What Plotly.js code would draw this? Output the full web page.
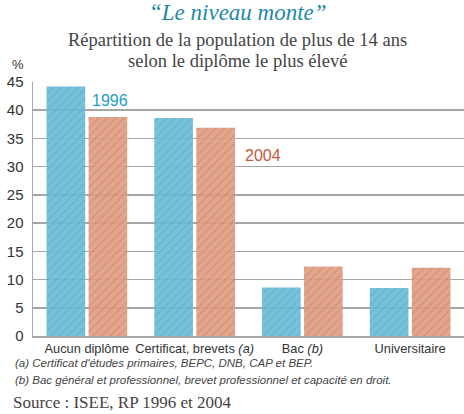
<!DOCTYPE html>
<html><head><meta charset="utf-8">
<script src="https://cdn.plot.ly/plotly-3.0.1.min.js"></script>
<style>body{margin:0;padding:0;background:#fff}#chart{width:464px;height:414px}</style>
</head><body><div id="chart"></div>
<script>
const categories = ["Aucun diplôme", "Certificat, brevets <i>(a)</i>", "Bac <i>(b)</i>", "Universitaire"];
const values1996 = [44.2, 38.6, 8.6, 8.5];
const values2004 = [38.8, 36.9, 12.3, 12.1];
const yTicks = [0, 5, 10, 15, 20, 25, 30, 35, 40, 45];

const sans = "Liberation Sans, Arial, sans-serif";
const serif = "Liberation Serif, DejaVu Serif, serif";

const traces = [
  {type: "bar", name: "1996", x: categories, y: values1996,
   marker: {color: "#6cbcd6", opacity: 0.92,
            pattern: {shape: "/", fillmode: "overlay", fgcolor: "#2a9fc0", fgopacity: 0.35, size: 6, solidity: 0.25}},
   hoverinfo: "y"},
  {type: "bar", name: "2004", x: categories, y: values2004,
   marker: {color: "#de9f84", opacity: 0.92,
            pattern: {shape: "/", fillmode: "overlay", fgcolor: "#c45f3e", fgopacity: 0.35, size: 6, solidity: 0.25}},
   hoverinfo: "y"}
];

const layout = {
  width: 464, height: 414,
  margin: {l: 33, r: 0, t: 82, b: 78, pad: 0},
  paper_bgcolor: "#fff", plot_bgcolor: "#fff",
  showlegend: false,
  barmode: "group", bargap: 0.22, bargroupgap: 0.08,
  xaxis: {range: [-0.5, 3.5], showgrid: false, showline: true, linecolor: "#a8a8a8", linewidth: 1.5,
          ticks: "", tickangle: 0, tickfont: {family: sans, size: 12.8, color: "#333"}, fixedrange: true},
  yaxis: {range: [0, 45], tickvals: yTicks, showgrid: true, gridcolor: "#a6a6a6", gridwidth: 1.5,
          showline: true, linecolor: "#a8a8a8", linewidth: 1.5, zeroline: false, ticks: "",
          ticklabelstandoff: 5,
          tickfont: {family: sans, size: 15, color: "#333"}, fixedrange: true},
  annotations: [
    {text: "<i>“Le niveau monte”</i>", xref: "paper", yref: "paper", x: 0.475, y: 1.272, showarrow: false,
     font: {family: serif, size: 23, color: "#1d8aab"}, xanchor: "center", yanchor: "middle"},
    {text: "Répartition de la population de plus de 14 ans",
     xref: "paper", yref: "paper", x: 0.475, y: 1.165, showarrow: false,
     font: {family: serif, size: 18.5, color: "#444"}, xanchor: "center", yanchor: "middle"},
    {text: "selon le diplôme le plus élevé",
     xref: "paper", yref: "paper", x: 0.475, y: 1.083, showarrow: false,
     font: {family: serif, size: 18.5, color: "#444"}, xanchor: "center", yanchor: "middle"},
    {text: "%", xref: "paper", yref: "paper", x: -0.035, y: 1.068, showarrow: false,
     font: {family: sans, size: 13, color: "#333"}, xanchor: "center", yanchor: "middle"},
    {text: "1996", xref: "x", yref: "y", x: 0.21, y: 41.8, showarrow: false,
     font: {family: sans, size: 16, color: "#1e9cc0"}, xanchor: "center", yanchor: "middle"},
    {text: "2004", xref: "x", yref: "y", x: 1.63, y: 31.9, showarrow: false,
     font: {family: sans, size: 16, color: "#c2593a"}, xanchor: "center", yanchor: "middle"},
    {text: "<i>(a) Certificat d'études primaires, BEPC, DNB, CAP et BEP.</i>", xref: "paper", yref: "paper",
     x: -0.046, y: -0.106, showarrow: false, xanchor: "left", yanchor: "middle",
     font: {family: sans, size: 11.5, color: "#444"}},
    {text: "<i>(b) Bac général et professionnel, brevet professionnel et capacité en droit.</i>", xref: "paper", yref: "paper",
     x: -0.046, y: -0.173, showarrow: false, xanchor: "left", yanchor: "middle",
     font: {family: sans, size: 11.5, color: "#444"}},
    {text: "Source : ISEE, RP 1996 et 2004", xref: "paper", yref: "paper",
     x: -0.05, y: -0.26, showarrow: false, xanchor: "left", yanchor: "middle",
     font: {family: serif, size: 17, color: "#444"}}
  ]
};

Plotly.newPlot("chart", traces, layout, {displayModeBar: false, staticPlot: true});
</script>
</body></html>
